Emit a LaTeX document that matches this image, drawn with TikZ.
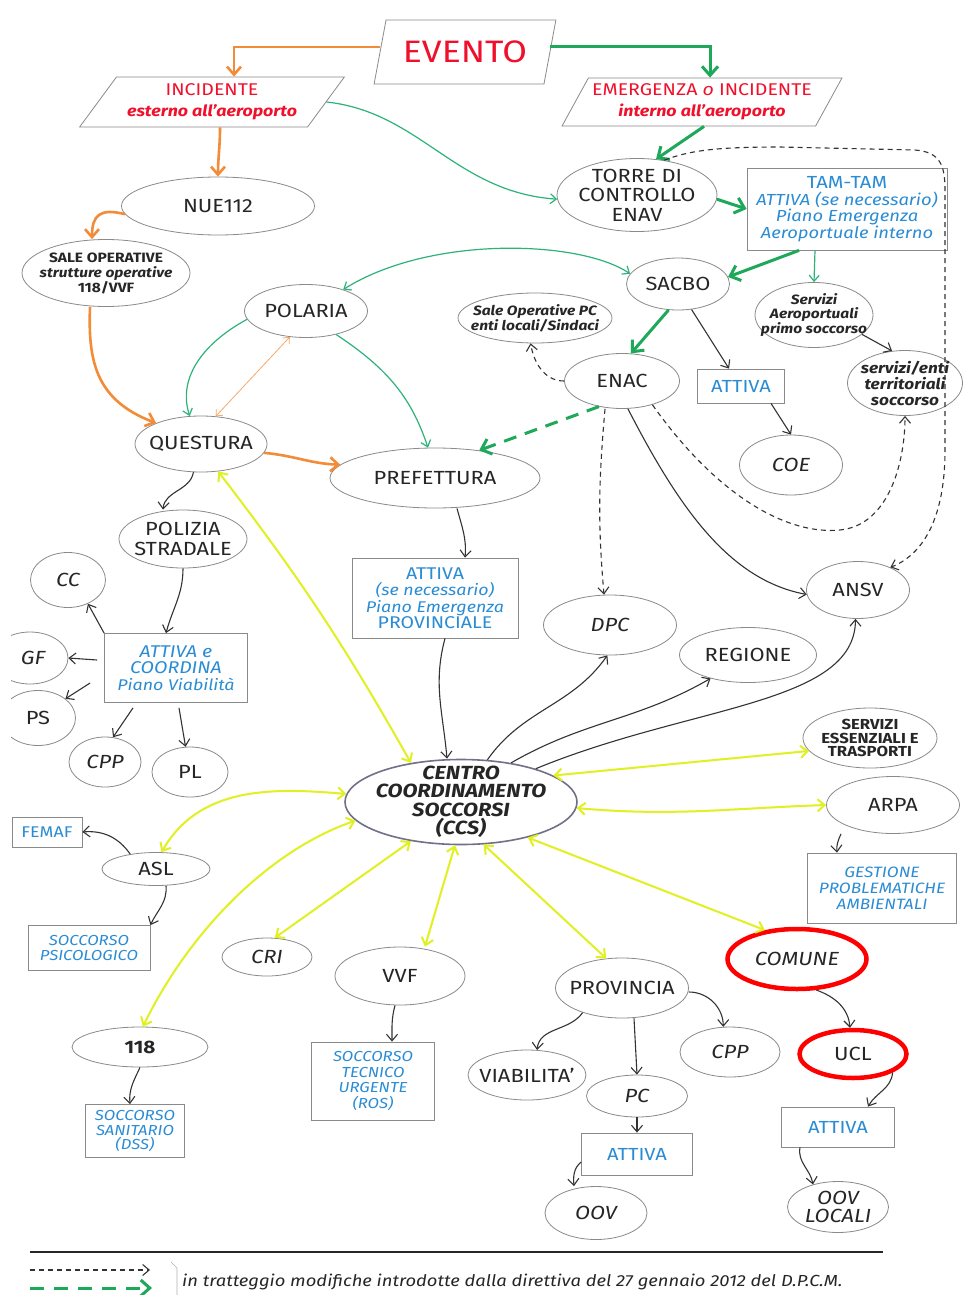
\documentclass[tikz,border=0pt]{standalone}
\usepackage{fontspec}
\setmainfont{Fira Sans}[FakeStretch=1.15]
\usetikzlibrary{shapes.geometric,arrows.meta,calc}
\definecolor{org}{HTML}{F28C38}
\definecolor{grn}{HTML}{1DA85A}
\definecolor{tgrn}{HTML}{2DB37A}
\definecolor{ylw}{HTML}{E0F020}
\definecolor{blu}{HTML}{2A8CD4}
\definecolor{rd}{HTML}{F0102C}
\definecolor{olc}{HTML}{8A8A8A}
\definecolor{ccsol}{HTML}{707088}
\newcommand{\fsz}[2]{\fontsize{#1}{#2}\selectfont}
\begin{document}
\begin{tikzpicture}[x=1pt,y=-1pt,
 ell/.style={ellipse,draw=olc,line width=0.8pt,inner xsep=-30pt,inner ysep=-10pt,align=center,text=black!85,font=\fsz{19}{19.5}},
 bx/.style={rectangle,draw=olc,line width=0.8pt,inner sep=2pt,align=center,text=blu,font=\fsz{15.5}{16.5}},
 para/.style={trapezium,draw=olc,line width=0.8pt,align=center,text=rd,trapezium stretches=true,inner sep=0pt},
 oarr/.style={-{Straight Barb[length=8pt,width=14pt]},draw=org,line width=2.6pt},
 garr/.style={-{Straight Barb[length=9pt,width=16pt]},draw=grn,line width=3pt},
 tg/.style={-{Straight Barb[length=6pt,width=10pt]},draw=tgrn,line width=1.2pt},
 tgd/.style={{Straight Barb[length=6pt,width=10pt]}-{Straight Barb[length=6pt,width=10pt]},draw=tgrn,line width=1.2pt},
 karr/.style={-{Straight Barb[length=6.5pt,width=11pt]},draw=black!80,line width=1.1pt},
 kd/.style={karr,dash pattern=on 5pt off 4pt},
 yarr/.style={{Straight Barb[length=7pt,width=12pt]}-{Straight Barb[length=7pt,width=12pt]},draw=ylw,line width=2pt},
]
\fill[white] (0,0) rectangle (962,1295);
\useasboundingbox (0,0) rectangle (962,1295);

% ---------- top parallelograms
\node[para,trapezium left angle=67,trapezium right angle=113,minimum width=182pt,minimum height=64pt,font=\fsz{31}{32}] (ev) at (465,52) {EVENTO};
\node[para,trapezium left angle=48,trapezium right angle=132,minimum width=265pt,minimum height=50pt,font=\fsz{17}{21}] (inc) at (212,102) {INCIDENTE\\{\bfseries\itshape\fsz{15.5}{21}esterno all'aeroporto}};
\node[para,trapezium left angle=55,trapezium right angle=125,minimum width=280pt,minimum height=48pt,font=\fsz{17}{21}] (emg) at (702,102) {EMERGENZA \textit{o} INCIDENTE\\{\bfseries\itshape\fsz{15.5}{21}interno all'aeroporto}};

% ---------- upper nodes
\node[ell,minimum width=193pt,minimum height=58pt] (nue) at (218,206) {NUE112};
\node[ell,minimum width=168pt,minimum height=67pt,font=\bfseries\fsz{13.5}{15}] (sale) at (106,273) {SALE OPERATIVE\\\textit{strutture operative}\\118/VVF};
\node[ell,minimum width=160pt,minimum height=73pt] (tor) at (637,195) {TORRE DI\\CONTROLLO\\ENAV};
\node[bx,minimum width=200pt,minimum height=82pt,font=\fsz{16}{16.5}] (tam) at (847,209) {{\fsz{17.5}{16.5}TAM-TAM}\\\textit{ATTIVA (se necessario)}\\\textit{Piano Emergenza}\\\textit{Aeroportuale interno}};
\node[ell,minimum width=103pt,minimum height=52pt] (sac) at (678,284) {SACBO};
\node[ell,minimum width=123pt,minimum height=53pt] (pol) at (306,311) {POLARIA};
\node[ell,minimum width=154pt,minimum height=50pt,font=\bfseries\itshape\fsz{13.5}{15}] (sop) at (535,318) {Sale Operative PC\\enti locali/Sindaci};
\node[ell,minimum width=118pt,minimum height=65pt,font=\bfseries\itshape\fsz{13.5}{14.5}] (srv) at (814,315) {Servizi\\Aeroportuali\\primo soccorso};
\node[ell,minimum width=115pt,minimum height=55pt] (ena) at (622,381) {ENAC};
\node[bx,minimum width=87pt,minimum height=34pt,font=\fsz{17.5}{18}] (att1) at (741,386) {ATTIVA};
\node[ell,minimum width=115pt,minimum height=65pt,font=\bfseries\itshape\fsz{15}{16}] (ter) at (905,383) {servizi/enti\\territoriali\\soccorso};
\node[ell,minimum width=103pt,minimum height=60pt,font=\itshape\fsz{19}{19.5}] (coe) at (791,465) {COE};

% ---------- middle nodes
\node[ell,minimum width=132pt,minimum height=56pt] (que) at (201,444) {QUESTURA};
\node[ell,minimum width=210pt,minimum height=60pt] (pref) at (435,478) {PREFETTURA};
\node[ell,minimum width=128pt,minimum height=58pt] (pol2) at (183,539) {POLIZIA\\STRADALE};
\node[ell,minimum width=75pt,minimum height=55pt,font=\itshape\fsz{19}{19.5}] (cc) at (68,580) {CC};
\node[bx,minimum width=143pt,minimum height=69pt] (attc) at (176,668) {{\itshape\fsz{17}{17}ATTIVA e}\\{\itshape\fsz{17}{17}COORDINA}\\\textit{Piano Viabilità}};
\node[bx,minimum width=166pt,minimum height=80pt] (attp) at (435,598) {{\fsz{17}{16.5}ATTIVA}\\\textit{(se necessario)}\\\textit{Piano Emergenza}\\{\fsz{17}{16.5}PROVINCIALE}};
\node[ell,minimum width=133pt,minimum height=60pt,font=\itshape\fsz{19}{19.5}] (dpc) at (610,625) {DPC};
\node[ell,minimum width=103pt,minimum height=57pt] (ans) at (858,590) {ANSV};
\node[ell,minimum width=137pt,minimum height=55pt] (reg) at (748,655) {REGIONE};
\node[ell,minimum width=76pt,minimum height=52pt,font=\itshape\fsz{19}{19.5}] (gf) at (30,658) {\hspace*{6pt}GF};
\node[ell,minimum width=75pt,minimum height=55pt] (ps) at (38,718) {PS};
\node[ell,minimum width=72pt,minimum height=50pt,font=\itshape\fsz{19}{19.5}] (cppl) at (105,762) {CPP};
\node[ell,minimum width=76pt,minimum height=50pt] (pl) at (190,772) {PL};
\node[ell,minimum width=134pt,minimum height=60pt,font=\bfseries\fsz{14.5}{13.5}] (ses) at (870,738) {SERVIZI\\ESSENZIALI E\\TRASPORTI};
\node[ell,draw=ccsol,line width=1.6pt,minimum width=232pt,minimum height=85pt,font=\bfseries\itshape\fsz{19}{18.5}] (ccs) at (461,802) {CENTRO\\COORDINAMENTO\\SOCCORSI\\(CCS)};
\node[ell,minimum width=133pt,minimum height=57pt] (arpa) at (893,805) {ARPA};
\node[bx,minimum width=70pt,minimum height=30pt,font=\fsz{15.5}{16}] (fem) at (47,832) {FEMAF};
\node[ell,minimum width=108pt,minimum height=33pt] (asl) at (156,869) {ASL};
\node[bx,minimum width=149pt,minimum height=70pt,font=\itshape\fsz{15}{16}] (gest) at (882,888) {GESTIONE\\PROBLEMATICHE\\AMBIENTALI};
\node[bx,minimum width=122pt,minimum height=45pt,font=\itshape\fsz{14.5}{15.5}] (psi) at (89,948) {SOCCORSO\\PSICOLOGICO};

% ---------- lower nodes
\node[ell,minimum width=90pt,minimum height=38pt,font=\itshape\fsz{19}{19.5}] (cri) at (267,957) {CRI};
\node[ell,minimum width=130pt,minimum height=58pt] (vvf) at (400,976) {VVF};
\node[ell,draw=red,line width=4.5pt,minimum width=139pt,minimum height=60pt,font=\itshape\fsz{19}{19.5}] (com) at (797,959) {COMUNE};
\node[ell,minimum width=133pt,minimum height=60pt] (prov) at (622,988) {PROVINCIA};
\node[ell,minimum width=136pt,minimum height=40pt,font=\bfseries\fsz{18}{18}] (s118) at (140,1047) {118};
\node[bx,minimum width=123pt,minimum height=78pt,font=\itshape\fsz{14.5}{15.5}] (tec) at (373,1081) {SOCCORSO\\TECNICO\\URGENTE\\(ROS)};
\node[ell,minimum width=100pt,minimum height=50pt,font=\itshape\fsz{19}{19.5}] (cppr) at (730,1052) {CPP};
\node[ell,draw=red,line width=4.5pt,minimum width=107pt,minimum height=48pt] (ucl) at (853,1054) {UCL};
\node[ell,minimum width=118pt,minimum height=50pt] (via) at (527,1075) {VIABILITA'};
\node[ell,minimum width=101pt,minimum height=42pt,font=\itshape\fsz{19}{19.5}] (pc) at (637,1096) {PC};
\node[bx,minimum width=99pt,minimum height=53pt,font=\itshape\fsz{14.5}{14.5}] (san) at (135,1131) {SOCCORSO\\SANITARIO\\(DSS)};
\node[bx,minimum width=111pt,minimum height=42pt,font=\fsz{17.5}{18}] (attpc) at (637,1154) {ATTIVA};
\node[bx,minimum width=113pt,minimum height=40pt,font=\fsz{17.5}{18}] (attu) at (838,1127) {ATTIVA};
\node[ell,minimum width=102pt,minimum height=53pt,font=\itshape\fsz{19}{19.5}] (oov) at (596,1213) {OOV};
\node[ell,minimum width=101pt,minimum height=51pt,font=\itshape\fsz{19}{18}] (oovl) at (838,1207) {OOV\\LOCALI};

% ---------- orange
\draw[oarr] ([yshift=5pt]ev.west) -| ([xshift=22pt]inc.north);
\draw[oarr] ([xshift=8pt]inc.south) to[out=-90,in=90] (nue.north);
\draw[oarr] (nue.185) .. controls (100,208) and (92,215) .. ([xshift=-14pt]sale.north);
\draw[oarr] ([xshift=-16pt]sale.south) .. controls (88,360) and (95,400) .. (que.155);
\draw[oarr] (que.-8) to[out=-5,in=178] (pref.172);
\draw[{Straight Barb[length=5pt,width=9pt]}-{Straight Barb[length=5pt,width=9pt]},draw=org!75,line width=0.8pt] (pol.238) -- (que.62);

% ---------- green thick
\draw[garr] ([yshift=5pt]ev.east) -| ([xshift=8pt]emg.north);
\draw[garr] ([xshift=2pt]emg.south) -- (tor.62);
\draw[garr] (tor.-3) -- (tam.west);
\draw[garr] ([xshift=-48pt]tam.south) -- (sac.8);
\draw[garr] (sac.250) -- (ena.72);
\draw[garr,dash pattern=on 13pt off 9pt] (ena.228) -- (pref.32);

% ---------- green thin
\draw[tg] (inc.east) .. controls (420,112) and (455,192) .. (tor.183);
\draw[tgd] (sac.168) .. controls (580,240) and (430,235) .. (pol.30);
\draw[tg] (pol.188) .. controls (200,345) and (178,380) .. (que.112);
\draw[tg] (pol.-38) .. controls (390,370) and (412,400) .. (pref.103);
\draw[tg] ([xshift=-32pt]tam.south) -- (srv.north);

% ---------- black solid
\draw[karr] (sac.-62) -- ([xshift=-12pt]att1.north);
\draw[karr] ([xshift=30pt]att1.south) -- (coe.north);
\draw[karr] (srv.-22) -- (ter.112);
\draw[karr] (ena.-78) .. controls (680,510) and (730,580) .. (ans.185);
\draw[karr] (que.-105) to[out=-100,in=85] ([xshift=-20pt]pol2.north);
\draw[karr] (pol2.south) to[out=-90,in=75] ([xshift=-10pt]attc.north);
\draw[karr] (attc.north west) -- (cc.-50);
\draw[karr] ([yshift=8pt,xshift=-7pt]attc.west) -- (gf.east);
\draw[karr] ([yshift=-15pt,xshift=-14pt]attc.west) -- (ps.35);
\draw[karr] ([xshift=-43pt,yshift=-5pt]attc.south) -- (cppl.72);
\draw[karr] ([xshift=3pt,yshift=-5pt]attc.south) -- (pl.100);
\draw[karr] ([xshift=22pt]pref.south) to[out=-75,in=85] ([xshift=30pt]attp.north);
\draw[karr] ([xshift=10pt]attp.south) to[out=-105,in=95] ([xshift=-14pt]ccs.north);
\draw[karr] (ccs.58) to[out=55,in=-125] (dpc.-95);
\draw[karr] (ccs.38) to[out=30,in=-150] (reg.-148);
\draw[karr] (ccs.24) .. controls (690,705) and (855,705) .. (ans.-95);
\draw[karr] ([xshift=-52pt]arpa.south) to[out=-115,in=95] ([xshift=-45pt]gest.north);
\draw[karr] (asl.150) to[out=125,in=5] (fem.east);
\draw[karr] ([xshift=10pt]asl.south) to[out=-85,in=65] (psi.north east);
\draw[karr] (s118.south) to[out=-115,in=95] ([xshift=-5pt]san.north);
\draw[karr] ([xshift=-5pt]vvf.south) to[out=-105,in=90] ([xshift=19pt]tec.north);
\draw[karr] (prov.212) to[out=-125,in=85] (via.68);
\draw[karr] ([xshift=12pt]prov.south) -- (pc.north);
\draw[karr] ([yshift=-4pt]prov.east) to[out=0,in=90] (cppr.105);
\draw[karr] (pc.south) -- (attpc.north);
\draw[karr] ([yshift=-8pt]attpc.west) to[out=-140,in=95] ([xshift=-22pt]oov.north);
\draw[karr] (com.-58) to[out=-20,in=95] ([xshift=-3pt]ucl.north);
\draw[karr] (ucl.-25) to[out=-95,in=60] ([xshift=30pt]attu.north);
\draw[karr] ([xshift=-38pt]attu.south) to[out=-100,in=100] (oovl.138);

% ---------- black dashed
\draw[kd] (tor.52) .. controls (690,150) and (720,147) .. (780,147) -- (915,150) .. controls (940,152) and (945,165) .. (945,190) -- (945,450) .. controls (945,520) and (922,555) .. (ans.35);
\draw[kd] (ena.180) to[out=180,in=-80] (sop.-100);
\draw[kd] ([xshift=-17pt]ena.south) to[out=-95,in=95] ([xshift=-6pt]dpc.north);
\draw[kd] (ena.-38) .. controls (720,500) and (790,535) .. (840,530) .. controls (890,525) and (905,460) .. (ter.-90);

% ---------- yellow
\draw[yarr] (que.-58) to[bend left=4] (ccs.142);
\draw[yarr] (ccs.176) to[out=175,in=60] (asl.72);
\draw[yarr] (ccs.190) .. controls (270,850) and (190,930) .. (s118.82);
\draw[yarr] (ccs.218) -- (cri.68);
\draw[yarr] (ccs.262) -- ([xshift=25pt]vvf.north);
\draw[yarr] (ccs.-62) -- (prov.118);
\draw[yarr] (ccs.-28) -- (com.138);
\draw[yarr] (ccs.-3) to[out=-5,in=182] (arpa.180);
\draw[yarr] (ccs.16) -- (ses.192);

% ---------- legend
\coordinate (la1) at (30,1270);
\coordinate (lb1) at (150,1270);
\coordinate (la2) at (30,1288);
\coordinate (lb2) at (152,1288);
\draw[line width=1.4pt,black!85] (30,1252) -- (883,1252);
\draw[kd] (la1) -- (lb1);
\draw[garr,dash pattern=on 14pt off 10pt] (la2) -- (lb2);
\draw[gray!60,line width=0.6pt] (171,1262) -- (177,1268) -- (177,1295);
\node[anchor=west,inner sep=0pt,text=black!85,font=\itshape\fsz{16}{18}] (leg) at (182,1282) {in tratteggio modifiche introdotte dalla direttiva del 27 gennaio 2012 del D.P.C.M.};

\fill[white] (0,0) rectangle (11,1295);
\end{tikzpicture}
\end{document}
